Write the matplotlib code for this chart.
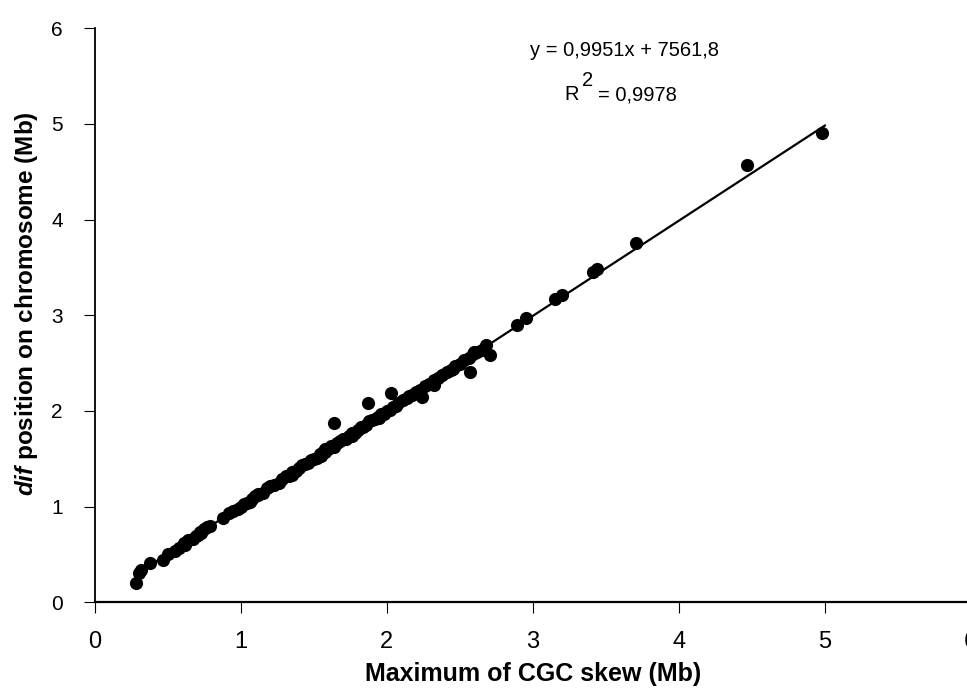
import matplotlib.pyplot as plt
import numpy as np

plt.rcParams['font.family'] = ['Liberation Sans', 'DejaVu Sans']
plt.rcParams['mathtext.fontset'] = 'custom'
plt.rcParams['mathtext.rm'] = 'Liberation Sans'
plt.rcParams['mathtext.it'] = 'Liberation Sans:bold:italic'

# skew maximum (Mb) vs dif position (Mb)
skew_max = [0.28, 0.30, 0.32, 0.38, 0.47, 0.50, 0.55, 0.58, 0.61, 0.64,
            0.67, 0.69, 0.71, 0.73, 0.75, 0.77, 0.79, 0.88, 0.92, 0.95,
            0.98, 1.00, 1.02, 1.04, 1.06, 1.08, 1.10, 1.12, 1.15, 1.18,
            1.20, 1.23, 1.26, 1.28, 1.31, 1.33, 1.35, 1.38, 1.40, 1.42,
            1.44, 1.46, 1.48, 1.50, 1.52, 1.54, 1.56, 1.58, 1.60, 1.62,
            1.64, 1.66, 1.68, 1.70, 1.72, 1.74, 1.76, 1.78, 1.80, 1.82,
            1.84, 1.86, 1.88, 1.90, 1.92, 1.94, 1.96, 1.98, 2.00, 2.02,
            2.04, 2.06, 2.08, 2.11, 2.14, 2.17, 2.20, 2.23, 2.26, 2.29,
            2.32, 2.35, 2.38, 2.41, 2.44, 2.47, 2.50, 2.53, 2.56, 2.59,
            2.62, 2.65, 2.68, 1.64, 1.87, 2.03, 2.24, 2.32, 2.57, 2.71,
            2.89, 2.95, 3.15, 3.20, 3.41, 3.44, 3.71, 4.47, 4.98, 1.55,
            1.58, 1.35, 1.12, 0.62, 0.72, 2.45, 2.60, 1.95, 2.15, 1.76]
dif_pos = [0.20, 0.31, 0.34, 0.41, 0.44, 0.50, 0.54, 0.57, 0.62, 0.65,
           0.66, 0.69, 0.70, 0.72, 0.76, 0.79, 0.80, 0.88, 0.93, 0.95,
           0.97, 1.00, 1.03, 1.04, 1.05, 1.08, 1.11, 1.12, 1.14, 1.19,
           1.21, 1.22, 1.25, 1.29, 1.32, 1.32, 1.36, 1.37, 1.40, 1.43,
           1.44, 1.45, 1.49, 1.50, 1.51, 1.55, 1.57, 1.57, 1.60, 1.63,
           1.62, 1.66, 1.68, 1.71, 1.71, 1.74, 1.77, 1.77, 1.80, 1.83,
           1.83, 1.85, 1.89, 1.90, 1.91, 1.94, 1.97, 1.97, 2.00, 2.01,
           2.04, 2.05, 2.08, 2.11, 2.13, 2.17, 2.20, 2.22, 2.26, 2.28,
           2.32, 2.34, 2.38, 2.41, 2.43, 2.47, 2.49, 2.53, 2.55, 2.59,
           2.62, 2.64, 2.69, 1.87, 2.08, 2.19, 2.15, 2.27, 2.41, 2.58,
           2.90, 2.97, 3.17, 3.21, 3.45, 3.48, 3.75, 4.57, 4.90, 1.53,
           1.60, 1.33, 1.13, 0.60, 0.73, 2.44, 2.62, 1.93, 2.16, 1.74]

slope = 0.9951
intercept = 7561.8 / 1e6   # bp -> Mb
fit_range = [0.30, 5.00]

fig = plt.figure(figsize=(9.67, 6.89), dpi=100)
ax = fig.add_axes([0.098, 0.126, 0.906, 0.833])

ax.scatter(skew_max, dif_pos, s=90, color='black', zorder=3, linewidths=0)
xf = np.array(fit_range)
ax.plot(xf, slope * xf + intercept, color='black', lw=1.6, zorder=2)

ax.set_xlim(0, 6)
ax.set_ylim(0, 6)
ax.set_xticks(range(7))
ax.set_yticks(range(7))
ax.spines['top'].set_visible(False)
ax.spines['right'].set_visible(False)
ax.spines['left'].set_linewidth(1.3)
ax.spines['bottom'].set_linewidth(1.6)
ax.tick_params(axis='both', direction='out', length=8, width=0.8)
ax.tick_params(axis='x', labelsize=17, pad=13)
ax.tick_params(axis='y', labelsize=15, pad=15)

ax.set_xlabel('Maximum of CGC skew (Mb)', fontsize=18, fontweight='bold',
              labelpad=6)
ax.set_ylabel(r'$dif$ position on chromosome (Mb)', fontsize=17.5,
              fontweight='bold')
ax.yaxis.set_label_coords(-0.062, 0.52)

# regression annotation
fig.text(624 / 967, 1 - 50 / 689, 'y = 0,9951x + 7561,8',
         ha='center', va='center', fontsize=14.5)
fig.text(564 / 967, 1 - 95 / 689, 'R', ha='left', va='center', fontsize=14.5)
fig.text(582 / 967, 1 - 81 / 689, '2', ha='left', va='center', fontsize=14.5)
fig.text(598 / 967, 1 - 95 / 689, '= 0,9978', ha='left', va='center',
         fontsize=14.5)

fig.savefig('out.png', dpi=100)
